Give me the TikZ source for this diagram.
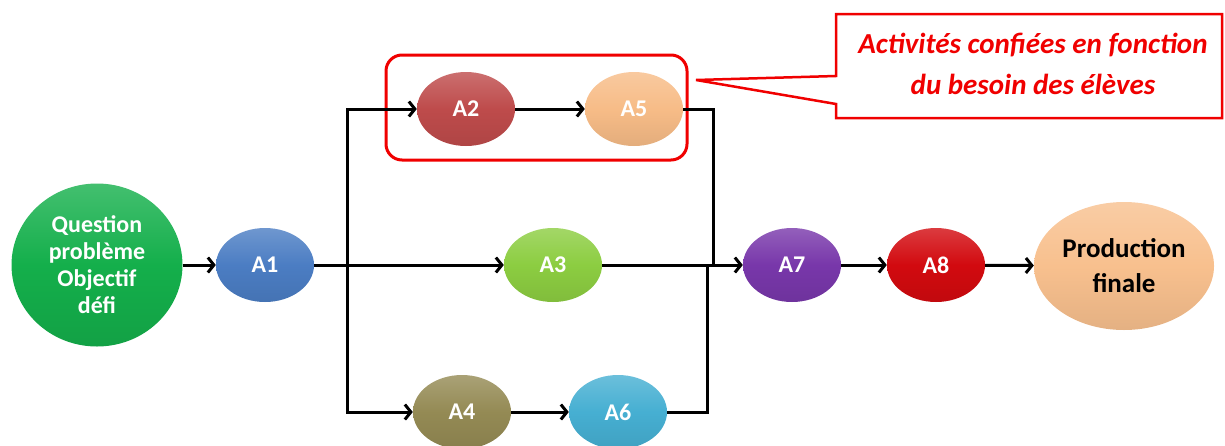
\documentclass[tikz,border=0pt]{standalone}
\usepackage{fontspec}
\setmainfont{Carlito}
\usetikzlibrary{arrows.meta,shapes.geometric}
\definecolor{cG}{RGB}{20,175,75}
\definecolor{cA1}{RGB}{75,125,195}
\definecolor{cA2}{RGB}{190,75,75}
\definecolor{cA5}{RGB}{247,188,135}
\definecolor{cA3}{RGB}{140,205,65}
\definecolor{cA4}{RGB}{148,138,84}
\definecolor{cA6}{RGB}{70,175,210}
\definecolor{cA7}{RGB}{120,55,170}
\definecolor{cA8}{RGB}{210,10,15}
\definecolor{cPF}{RGB}{248,192,142}
\definecolor{cRed}{RGB}{240,0,0}
\tikzset{
  blob/.style={ellipse, inner sep=0pt, align=center, top color=#1!80!white, bottom color=#1!92!black, middle color=#1, draw=none},
  act/.style={blob=#1, minimum width=98pt, minimum height=74pt, text=white, font=\fontsize{24}{28}\selectfont\bfseries},
  conn/.style={line width=3pt, black},
  arr/.style={conn, -{Straight Barb[length=6pt,width=15pt]}},
}
\begin{document}
\begin{tikzpicture}[x=1pt,y=-1pt]
\useasboundingbox (0,0) rectangle (1225,445);
% red frame around A2 and A5
\draw[cRed, line width=3pt, rounded corners=16pt] (386,55) rectangle (687,160);
% nodes
\node[blob=cG, minimum width=171pt, minimum height=163pt, text=white,
      font=\fontsize{24}{27}\selectfont\bfseries] (G) at (97,265) {Question\\problème\\Objectif\\défi};
\node[act=cA1] (A1) at (265,265) {A1};
\node[act=cA2] (A2) at (466,109) {A2};
\node[act=cA5] (A5) at (634,109) {A5};
\node[act=cA3] (A3) at (553,265) {A3};
\node[act=cA4] (A4) at (462,412) {A4};
\node[act=cA6] (A6) at (618,412) {A6};
\node[act=cA7] (A7) at (792,265) {A7};
\node[act=cA8] (A8) at (936,265) {A8};
\node[blob=cPF, minimum width=180pt, minimum height=128pt, text=black,
      font=\fontsize{27}{35}\selectfont\bfseries] (PF) at (1124,266) {Production\\finale};
% junctions
\coordinate (ja) at (347,265);
\coordinate (jt) at (713,265);
\coordinate (jb) at (707,265);
% connectors
\draw[arr] (G) -- (A1);
\draw[arr] (A1) -- (A3);
\draw[arr] (ja) |- (A2.west);
\draw[arr] (ja) |- (A4.west);
\draw[arr] (A2) -- (A5);
\draw[arr] (A4) -- (A6);
\draw[conn] (A5.east) -| (jt);
\draw[conn] (A6.east) -| (jb);
\draw[arr] (A3) -- (A7);
\draw[arr] (A7) -- (A8);
\draw[arr] (A8) -- (PF);
% callout
\draw[cRed, line width=2.5pt, fill=white] (836,14) -- (1222,14) -- (1222,118) -- (836,118) -- (836,104) -- (696,80) -- (836,76) -- cycle;
\node[text=cRed, align=center, font=\fontsize{29}{41}\selectfont\bfseries\itshape] (C) at (1033,64) {Activités confiées en fonction\\du besoin des élèves};
\end{tikzpicture}
\end{document}
